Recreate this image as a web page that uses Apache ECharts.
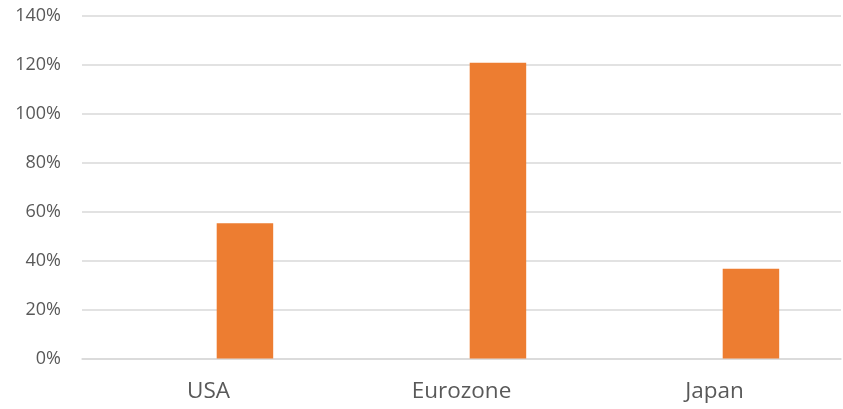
<!DOCTYPE html>
<html>
<head>
<meta charset="utf-8">
<script src="https://cdn.jsdelivr.net/npm/echarts@6/dist/echarts.min.js"></script>
<style>
  html, body { margin: 0; padding: 0; background: #fff; }
  #chart { width: 843px; height: 409px; }
</style>
</head>
<body>
<div id="chart"></div>
<script>
// Regions on the category axis
const regions = ['USA', 'Eurozone', 'Japan'];
// First series carries no values (kept for the paired-bar layout)
const baseSeries = ['-', '-', '-'];
// Ratio values in percent
const ratioSeries = [55.3, 120.9, 36.7];
// Value-axis ticks
const yMin = 0, yMax = 140, yStep = 20;

const chart = echarts.init(document.getElementById('chart'), null, { renderer: 'canvas' });
const font = '"Open Sans", "Noto Sans", sans-serif';

chart.setOption({
  animation: false,
  grid: { left: 82, right: 2, top: 16, bottom: 50.5, containLabel: false },
  xAxis: {
    type: 'category',
    data: regions,
    axisTick: { show: false },
    axisLine: { show: true, lineStyle: { color: '#D9D9D9', width: 1.5 } },
    axisLabel: { color: '#595959', fontFamily: font, fontSize: 22.5, margin: 22 }
  },
  yAxis: {
    type: 'value',
    min: yMin, max: yMax, interval: yStep,
    axisLine: { show: false },
    axisTick: { show: false },
    splitLine: { lineStyle: { color: '#D9D9D9', width: 1.5 } },
    axisLabel: {
      color: '#595959', fontFamily: font, fontSize: 18, margin: 21,
      formatter: v => v + '%'
    }
  },
  series: [
    { type: 'bar', data: baseSeries, barWidth: 56.5, barGap: '29%', itemStyle: { color: '#4472C4' } },
    { type: 'bar', data: ratioSeries, barWidth: 56.5, barGap: '29%', itemStyle: { color: '#ED7D31' } }
  ]
});
</script>
</body>
</html>
